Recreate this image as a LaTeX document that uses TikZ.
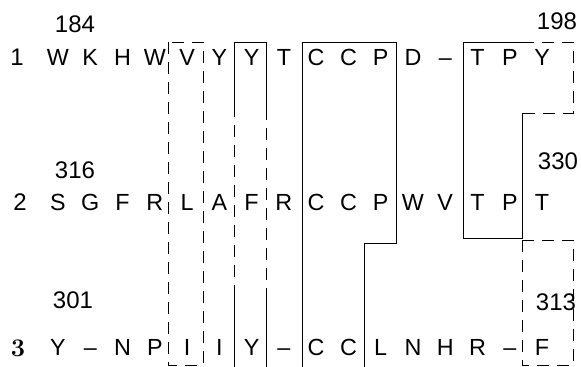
\documentclass[tikz,border=0pt]{standalone}
\usepackage{fontspec}
\setsansfont{Liberation Sans}
\usepackage{tikz}
\usetikzlibrary{positioning, calc}

\tikzset{
    res/.style={anchor=base, inner sep=0pt, font=\sffamily\fontsize{17.5}{20}\selectfont},
    num/.style={res, font=\sffamily\fontsize{18}{20}\selectfont},
    box/.style={line width=0.7pt},
    dbox/.style={line width=0.7pt, dash pattern=on 9pt off 6pt}
}

\begin{document}
\begin{tikzpicture}[x=0.75pt, y=-0.75pt]
    \useasboundingbox (0,0) rectangle (581,367);
    % sequences
    \foreach \ch [count=\i from 0] in {W,K,H,W,V,Y,Y,T,C,C,P,D,--,T,P,Y}
        \node[res] (a\i) at ({58+32.27*\i}, 66) {\ch};
    \foreach \ch [count=\i from 0] in {S,G,F,R,L,A,F,R,C,C,P,W,V,T,P,T}
        \node[res] (b\i) at ({58+32.27*\i}, 210) {\ch};
    \foreach \ch [count=\i from 0] in {Y,--,N,P,I,I,Y,--,C,C,L,N,H,R,--,F}
        \node[res] (c\i) at ({58+32.27*\i}, 355) {\ch};
    \node[num] (lab1) at (17, 66) {1};
    \node[num] (lab2) at (20, 210) {2};
    \node[res, font=\rmfamily\bfseries\fontsize{19}{20}\selectfont] (lab3) at (18, 356) {3};
    \node[num] (n184) at (75, 33) {184};
    \node[num] (n316) at (75, 178) {316};
    \node[num] (n301) at (73, 308) {301};
    \node[num] (n198) at (557, 30) {198};
    \node[num] (n330) at (558, 170) {330};
    \node[num] (n313) at (556, 310) {313};
    % boxes
    \draw[dbox] (168,42) rectangle (203,365);
    \draw[box] (234,105) -- (234,42) -- (266,42) -- (266,108);
    \draw[dbox] (234,105) -- (234,293);
    \draw[dbox] (266,108) -- (266,293);
    \draw[box] (234,293) -- (234,367);
    \draw[box] (266,293) -- (266,367);
    \draw[box] (302,367) -- (302,42) -- (396,42) -- (396,243) -- (364,243) -- (364,367);
    \draw[box] (522,113) -- (522,238) -- (463,238) -- (463,42) -- (522,42);
    \draw[dbox] (522,42) -- (573,42) -- (573,113) -- (522,113);
    \draw[dbox] (522,240) rectangle (573,365);
\end{tikzpicture}
\end{document}
